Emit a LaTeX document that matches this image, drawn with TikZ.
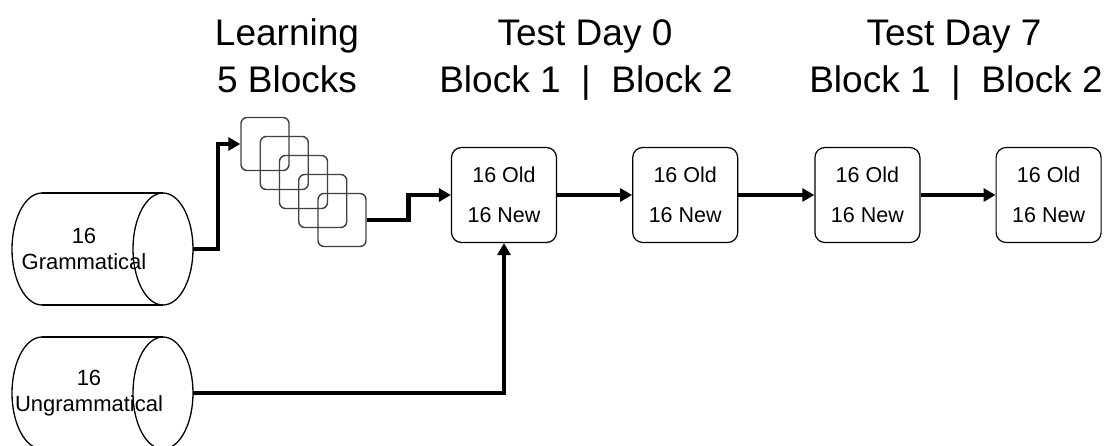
\documentclass[tikz,border=0pt]{standalone}
\usepackage{fontspec}
\setmainfont{Liberation Sans}
\usetikzlibrary{shapes.geometric, arrows.meta, positioning, calc}
\tikzset{
    % Shapes
    cylLine/.style={draw, line width=1.3pt},
    poolText/.style={align=center, inner sep=0pt, font=\fontsize{22}{26}\selectfont},
    blockSq/.style={rectangle, draw=black!75, line width=1.4pt, rounded corners=6pt,
                    minimum width=48pt, minimum height=53pt},
    testBox/.style={rectangle, draw, line width=1.2pt, rounded corners=10pt,
                    minimum width=105pt, minimum height=95pt, align=center,
                    font=\fontsize{21.5}{40}\selectfont},
    hdr/.style={anchor=base, font=\fontsize{37}{40}\selectfont},
    % Flow
    flow/.style={-{Triangle[length=12pt, width=13pt]}, line width=4.5pt}
}

\begin{document}
\begin{tikzpicture}[x=1pt, y=-1pt]
\useasboundingbox (0,0) rectangle (1116,445);

% Headers
\node[hdr] (learnA) at (287,45) {Learning};
\node[hdr] (learnB) at (287,92) {5 Blocks};
\node[hdr] (day0A) at (585,45) {Test Day 0};
\node[hdr] (day0B) at (586,92) {Block 1~~|~~Block 2};
\node[hdr] (day7A) at (954,45) {Test Day 7};
\node[hdr] (day7B) at (956,92) {Block 1~~|~~Block 2};

% Sentence pools (horizontal cylinders)
\foreach \nm/\cy/\tx/\txt in {gram/249/84/Grammatical, ungram/393/89/Ungrammatical} {
    \draw[cylLine] (42,\cy-56) -- (163,\cy-56) (42,\cy+56) -- (163,\cy+56);
    \draw[cylLine] (42,\cy-56) arc[start angle=270, end angle=90, x radius=30, y radius=56];
    \draw[cylLine] (163,\cy) ellipse [x radius=30, y radius=56];
    \node[poolText] (\nm) at (\tx,\cy) {16\\\txt};
    \coordinate (\nm-out) at (193,\cy);
}

% Learning blocks
\foreach \i in {1,...,5}
    \node[blockSq] (blk\i) at ({265+19.25*(\i-1)}, {144+19*(\i-1)}) {};

% Test blocks
\node[testBox] (d0b1) at (504,195) {16 Old\\16 New};
\node[testBox, right=75pt of d0b1] (d0b2) {16 Old\\16 New};
\node[testBox, right=76pt of d0b2] (d7b1) {16 Old\\16 New};
\node[testBox, right=75pt of d7b1] (d7b2) {16 Old\\16 New};

% Arrows
\draw[flow] (gram-out) -- ++(25,0) |- (blk1.west);
\draw[flow] (blk5.east) -- ++(42,0) |- (d0b1.west);
\draw[flow] (ungram-out) -| (d0b1.south);
\draw[flow] (d0b1) -- (d0b2);
\draw[flow] (d0b2) -- (d7b1);
\draw[flow] (d7b1) -- (d7b2);

\end{tikzpicture}
\end{document}
